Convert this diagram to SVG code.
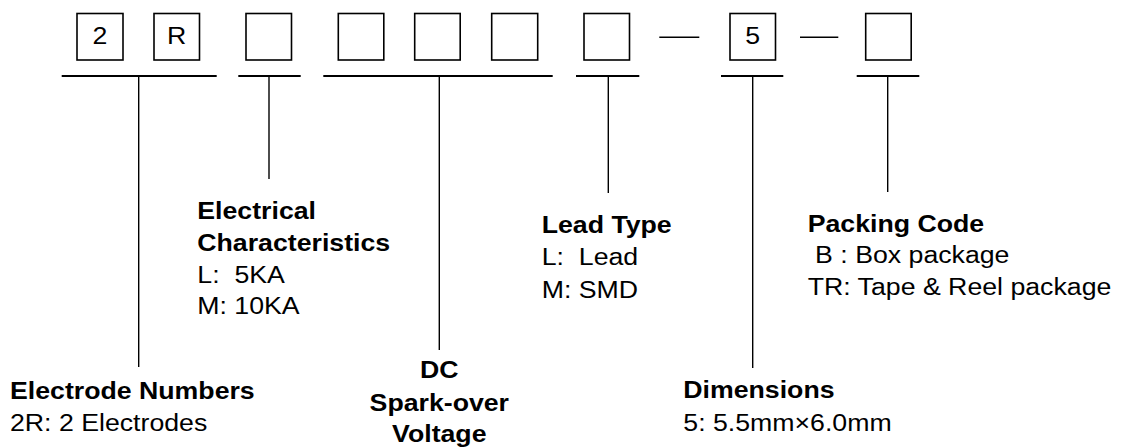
<svg xmlns="http://www.w3.org/2000/svg" width="1122" height="448" viewBox="0 0 1122 448">
<style>
.box{fill:#fff;stroke:#000;stroke-width:1.6}
.hl{stroke:#000;stroke-width:2;fill:none}
.vl{stroke:#000;stroke-width:1.4;fill:none}
text{font-family:"Liberation Sans",Arial,sans-serif;font-size:24.5px;fill:#000}
.b{font-weight:bold}
.c{text-anchor:middle}
</style>
<rect width="1122" height="448" fill="#fff"/>
<g id="code">
<g id="box1"><rect class="box" x="77" y="13.5" width="46" height="46.5"/><g transform="translate(100,0) scale(1.09,1)"><text class="c" x="0" y="44.5">2</text></g></g>
<g id="box2"><rect class="box" x="154" y="13.5" width="45.5" height="46.5"/><g transform="translate(176.7,0) scale(1.09,1)"><text class="c" x="0" y="44.5">R</text></g></g>
<g id="box3"><rect class="box" x="246" y="13.5" width="45.5" height="46.5"/></g>
<g id="box4"><rect class="box" x="338.3" y="13.5" width="45.5" height="46.5"/></g>
<g id="box5"><rect class="box" x="414.7" y="13.5" width="45.5" height="46.5"/></g>
<g id="box6"><rect class="box" x="491.7" y="13.5" width="46" height="46.5"/></g>
<g id="box7"><rect class="box" x="584" y="13.5" width="45.5" height="46.5"/></g>
<g id="dash1"><line class="vl" x1="659.3" y1="37.3" x2="699.3" y2="37.3"/></g>
<g id="box8"><rect class="box" x="730" y="13.5" width="45.5" height="46.5"/><g transform="translate(752.7,0) scale(1.09,1)"><text class="c" x="0" y="44.5">5</text></g></g>
<g id="dash2"><line class="vl" x1="800" y1="37.3" x2="838.3" y2="37.3"/></g>
<g id="box9"><rect class="box" x="865.7" y="13.5" width="45.5" height="46.5"/></g>
</g>
<g id="connectors">
<line class="hl" x1="61.7" y1="76" x2="216.7" y2="76"/>
<line class="vl" x1="138.7" y1="76" x2="138.7" y2="367"/>
<line class="hl" x1="238.3" y1="76" x2="300.7" y2="76"/>
<line class="vl" x1="269" y1="76" x2="269" y2="179"/>
<line class="hl" x1="323.3" y1="76" x2="552.7" y2="76"/>
<line class="vl" x1="439.3" y1="76" x2="439.3" y2="350"/>
<line class="hl" x1="576" y1="76" x2="639.3" y2="76"/>
<line class="vl" x1="608.3" y1="76" x2="608.3" y2="193"/>
<line class="hl" x1="721" y1="76" x2="783.3" y2="76"/>
<line class="vl" x1="752.7" y1="76" x2="752.7" y2="368"/>
<line class="hl" x1="856.7" y1="76" x2="919.3" y2="76"/>
<line class="vl" x1="887.7" y1="76" x2="887.7" y2="192"/>
</g>
<g id="electrode" transform="translate(10,0) scale(1.09,1)">
<text class="b" x="0" y="399.5">Electrode Numbers</text>
<text x="0" y="431.5">2R: 2 Electrodes</text>
</g>
<g id="electrical" transform="translate(197.3,0) scale(1.09,1)">
<text class="b" x="0" y="219">Electrical</text>
<text class="b" x="0" y="250.7">Characteristics</text>
<text x="0" y="282.7" xml:space="preserve">L:  5KA</text>
<text x="0" y="314" xml:space="preserve">M: 10KA</text>
</g>
<g id="dc" transform="translate(439.3,0) scale(1.09,1)">
<text class="b c" x="0" y="378.3">DC</text>
<text class="b c" x="0" y="411.3">Spark-over</text>
<text class="b c" x="0" y="442">Voltage</text>
</g>
<g id="lead" transform="translate(541.7,0) scale(1.09,1)">
<text class="b" x="0" y="233">Lead Type</text>
<text x="0" y="265.5" xml:space="preserve">L:  Lead</text>
<text x="0" y="298.5">M: SMD</text>
</g>
<g id="dimensions" transform="translate(683.3,0) scale(1.09,1)">
<text class="b" x="0" y="397.7">Dimensions</text>
<text x="0" y="430.7">5: 5.5mm×6.0mm</text>
</g>
<g id="packing" transform="translate(807.7,0) scale(1.09,1)">
<text class="b" x="0" y="231.7">Packing Code</text>
<text x="0" y="263.3" xml:space="preserve"> B : Box package</text>
<text x="0" y="295">TR: Tape &amp; Reel package</text>
</g>
</svg>
